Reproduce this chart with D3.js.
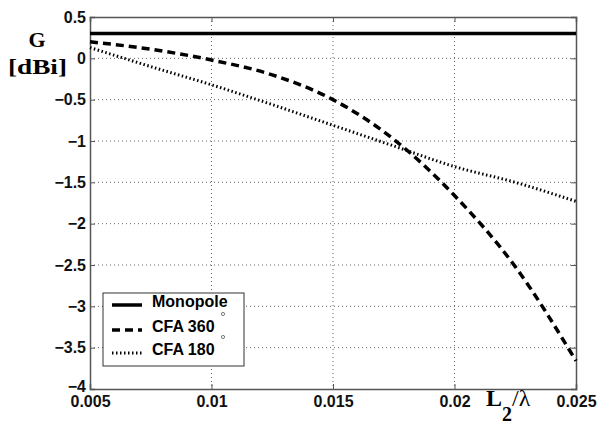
<!DOCTYPE html>
<html>
<head>
<meta charset="utf-8">
<script src="https://cdn.jsdelivr.net/npm/d3@7"></script>
<style>
  body { margin: 0; background: #fff; }
</style>
</head>
<body>
<svg id="chart" width="597" height="426"></svg>
<script>
const xVals = [0.005, 0.0075, 0.01, 0.0125, 0.015, 0.0175, 0.02, 0.0225, 0.025]
const monopole = [0.3, 0.3, 0.3, 0.3, 0.3, 0.3, 0.3, 0.3, 0.3]
const cfa360 = [0.2, 0.11, -0.02, -0.2, -0.5, -0.98, -1.66, -2.52, -3.66]
const cfa180 = [0.13, -0.1, -0.32, -0.56, -0.81, -1.06, -1.31, -1.5, -1.73]
const xTicks = [0.005, 0.01, 0.015, 0.02, 0.025]
const yTicks = [0.5, 0, -0.5, -1, -1.5, -2, -2.5, -3, -3.5, -4]
const seriesNames = ["Monopole", "CFA 360", "CFA 180"]

const sans = '"Liberation Sans", Arial, sans-serif'
const serif = '"Liberation Serif", "Times New Roman", serif'

const svg = d3.select('#chart')
const pLeft = 90, pRight = 576, pTop = 17, pBottom = 389

const x = d3.scaleLinear().domain([0.005, 0.025]).range([pLeft, pRight])
const y = d3.scaleLinear().domain([-4, 0.5]).range([pBottom, pTop])

// grid
svg.append('g').selectAll('line')
    .data(xTicks.slice(1, -1))
    .join('line')
    .attr('x1', d => x(d)).attr('x2', d => x(d))
    .attr('y1', pTop).attr('y2', pBottom)
    .attr('stroke', '#666').attr('stroke-width', 1).attr('stroke-dasharray', '1,3')
svg.append('g').selectAll('line')
    .data(yTicks.slice(1, -1))
    .join('line')
    .attr('x1', pLeft).attr('x2', pRight)
    .attr('y1', d => y(d)).attr('y2', d => y(d))
    .attr('stroke', '#666').attr('stroke-width', 1).attr('stroke-dasharray', '1,3')

// axes, ticks pointing inward
const fmt = d => d === 0 ? '0' : String(d).replace('-', '\u2212')
svg.append('g').attr('transform', `translate(0,${pBottom})`)
    .call(d3.axisBottom(x).tickValues(xTicks).tickSize(-5).tickPadding(7).tickFormat(d => String(d)))
const yAx = svg.append('g').attr('transform', `translate(${pLeft},0)`)
    .call(d3.axisLeft(y).tickValues(yTicks).tickSize(-5).tickPadding(4).tickFormat(fmt))
svg.append('g').attr('transform', `translate(0,${pTop})`)
    .call(d3.axisTop(x).tickValues(xTicks).tickSize(-5).tickFormat(''))
svg.append('g').attr('transform', `translate(${pRight},0)`)
    .call(d3.axisRight(y).tickValues(yTicks).tickSize(-5).tickFormat(''))
svg.selectAll('.domain').attr('stroke', '#555').attr('stroke-width', 1.5)
svg.selectAll('.tick line').attr('stroke', '#555')
svg.selectAll('.tick text').attr('font-size', 16).attr('fill', '#111')
    .attr('font-family', sans).attr('font-weight', 'bold')
// -4 sits just above the 0.005 label
yAx.selectAll('.tick text').filter(d => d === -4).attr('y', -3)

// curves
const line = d3.line().x((d, i) => x(xVals[i])).y(d => y(d)).curve(d3.curveMonotoneX)
const styles = [
    {w: 3.5, dash: null},
    {w: 3.5, dash: '8,5'},
    {w: 3, dash: '1.5,2.5'}
]
;[monopole, cfa360, cfa180].forEach((s, k) => {
    svg.append('path').datum(s)
        .attr('d', line)
        .attr('fill', 'none').attr('stroke', '#000')
        .attr('stroke-width', styles[k].w)
        .attr('stroke-dasharray', styles[k].dash)
})

// legend
const lg = svg.append('g')
lg.append('rect').attr('x', 103).attr('y', 293).attr('width', 141).attr('height', 73)
    .attr('fill', '#fff').attr('stroke', '#333').attr('stroke-width', 1)
const rowY = [305, 330, 353]
seriesNames.forEach((n, k) => {
    const yy = rowY[k]
    lg.append('line').attr('x1', 112).attr('x2', 142).attr('y1', yy).attr('y2', yy)
        .attr('stroke', '#000').attr('stroke-width', styles[k].w)
        .attr('stroke-dasharray', styles[k].dash)
    lg.append('text').attr('x', 152).attr('y', yy + 2)
        .attr('font-family', sans).attr('font-weight', 'bold').attr('font-size', 16).text(n)
    if (k > 0) {
        lg.append('circle').attr('cx', 223).attr('cy', yy - 16).attr('r', 1.6)
            .attr('fill', 'none').attr('stroke', '#444').attr('stroke-width', 0.7)
    }
})

// axis labels
svg.append('text').attr('x', 37).attr('y', 47).attr('text-anchor', 'middle')
    .attr('font-family', serif).attr('font-weight', 'bold').attr('font-size', 22).text('G')
svg.append('text').attr('x', 8).attr('y', 74)
    .attr('textLength', 59).attr('lengthAdjust', 'spacingAndGlyphs')
    .attr('font-family', serif).attr('font-weight', 'bold').attr('font-size', 22).text('[dBi]')
const xl = svg.append('text').attr('x', 486).attr('y', 406)
    .attr('font-family', serif).attr('font-weight', 'bold').attr('font-size', 24)
xl.append('tspan').text('L')
xl.append('tspan').attr('dy', 15).attr('font-size', 20).text('2')
xl.append('tspan').attr('dy', -15).attr('font-weight', 'normal').attr('font-size', 24).text('/λ')
</script>
</body>
</html>
